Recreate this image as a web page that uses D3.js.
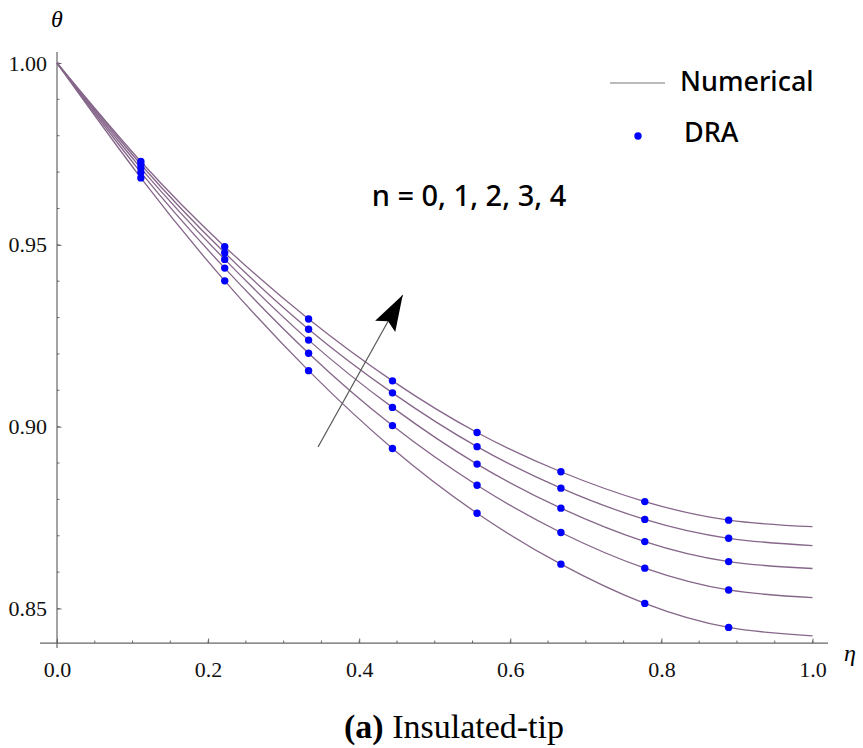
<!DOCTYPE html>
<html>
<head>
<meta charset="utf-8">
<script src="https://cdn.jsdelivr.net/npm/d3@7"></script>
<style>
body { margin: 0; background: #fff; }
svg { display: block; }
</style>
</head>
<body>
<div id="chart"></div>
<script>
// ----------------------------------------------------------
// DATA -----------------------------------------------------
// ----------------------------------------------------------
// eta nodes (numerical curves)
var eta = [0, 0.111, 0.222, 0.333, 0.444, 0.556, 0.667, 0.778, 0.889, 1.0];
// theta for n = 0..4 (n = 0 lowest)
var theta_n0 = [1.0, 0.9684, 0.9401, 0.9154, 0.8940, 0.8762, 0.8622, 0.8514, 0.8448, 0.8425];
var theta_n1 = [1.0, 0.9699, 0.9436, 0.9202, 0.9003, 0.8839, 0.8709, 0.8611, 0.8551, 0.8530];
var theta_n2 = [1.0, 0.9711, 0.9460, 0.9238, 0.9053, 0.8897, 0.8776, 0.8684, 0.8629, 0.8610];
var theta_n3 = [1.0, 0.9721, 0.9478, 0.9268, 0.9093, 0.8945, 0.8831, 0.8745, 0.8693, 0.8673];
var theta_n4 = [1.0, 0.9729, 0.9495, 0.9296, 0.9126, 0.8984, 0.8876, 0.8794, 0.8743, 0.8725];
var numerical = [theta_n0, theta_n1, theta_n2, theta_n3, theta_n4];
// DRA markers at the interior nodes
var eta_dra = [0.111, 0.222, 0.333, 0.444, 0.556, 0.667, 0.778, 0.889];
var dra = numerical.map(function(s) { return s.slice(1, 9); });
// ticks
var x_ticks = [0, 0.2, 0.4, 0.6, 0.8, 1.0];
var x_minor = d3.range(0, 1.0001, 0.05);
var y_ticks = [0.85, 0.90, 0.95, 1.00];
var y_minor = d3.range(0.85, 1.0001, 0.01);

// ----------------------------------------------------------
// STRUCTURE ------------------------------------------------
// ----------------------------------------------------------
var W = 863, H = 748;
var svg = d3.select("#chart").append("svg")
  .attr("width", W).attr("height", H)
  .style("background-color", "#fff");

var x = d3.scaleLinear().domain([0, 1]).range([57, 812.5]);
var y = d3.scaleLinear().domain([0.85, 1.0]).range([608.5, 63]);
var origin_theta = 0.8405;
var axisColor = "#666";
var serif = "'Liberation Serif', 'Times New Roman', serif";

// ----------------------------------------------------------
// AXES -----------------------------------------------------
// ----------------------------------------------------------
var gx = svg.append("g").attr("transform", "translate(0," + y(origin_theta) + ")");
gx.append("line").attr("x1", 40).attr("x2", 828).attr("stroke", axisColor).attr("stroke-width", 1.2);
gx.selectAll(".minor").data(x_minor).enter().append("line")
  .attr("x1", function(d) { return x(d); }).attr("x2", function(d) { return x(d); })
  .attr("y1", 0).attr("y2", -2.5).attr("stroke", axisColor);
gx.call(d3.axisBottom(x).tickValues(x_ticks).tickFormat(d3.format(".1f"))
    .tickSizeInner(-4.5).tickSizeOuter(0).tickPadding(18))
  .call(function(g) {
    g.select(".domain").remove();
    g.selectAll(".tick line").attr("stroke", axisColor);
    g.selectAll(".tick text").attr("fill", "#111").style("font-family", serif).style("font-size", "22px");
  });

var gy = svg.append("g").attr("transform", "translate(" + x(0) + ",0)");
gy.append("line").attr("y1", 52).attr("y2", 648).attr("stroke", axisColor).attr("stroke-width", 1.2);
gy.selectAll(".minor").data(y_minor).enter().append("line")
  .attr("y1", function(d) { return y(d); }).attr("y2", function(d) { return y(d); })
  .attr("x1", 0).attr("x2", 2.5).attr("stroke", axisColor);
gy.call(d3.axisLeft(y).tickValues(y_ticks).tickFormat(d3.format(".2f"))
    .tickSizeInner(-4.5).tickSizeOuter(0).tickPadding(10))
  .call(function(g) {
    g.select(".domain").remove();
    g.selectAll(".tick line").attr("stroke", axisColor);
    g.selectAll(".tick text").attr("fill", "#111").style("font-family", serif).style("font-size", "22px");
  });

// axis labels
svg.append("text").attr("x", 57).attr("y", 27).attr("text-anchor", "middle")
  .style("font-family", serif).style("font-style", "italic").style("font-size", "24px")
  .text("θ");
svg.append("text").attr("x", 850).attr("y", 661).attr("text-anchor", "middle")
  .style("font-family", serif).style("font-style", "italic").style("font-size", "24px")
  .text("η");

// ----------------------------------------------------------
// GFX ------------------------------------------------------
// ----------------------------------------------------------
var line = d3.line()
  .x(function(d, i) { return x(eta[i]); })
  .y(function(d) { return y(d); })
  .curve(d3.curveNatural);

svg.append("g").selectAll("path").data(numerical).enter().append("path")
  .attr("d", line)
  .attr("fill", "none")
  .attr("stroke", "#86668a")
  .attr("stroke-width", 1.3);

svg.append("g").selectAll("g").data(dra).enter().append("g")
  .selectAll("circle").data(function(d) { return d; }).enter().append("circle")
  .attr("cx", function(d, i) { return x(eta_dra[i]); })
  .attr("cy", function(d) { return y(d); })
  .attr("r", 3.7)
  .attr("fill", "#0000ff");

// ----------------------------------------------------------
// ANNOTATION -----------------------------------------------
// ----------------------------------------------------------
svg.append("defs").append("marker")
  .attr("id", "head").attr("markerUnits", "userSpaceOnUse")
  .attr("markerWidth", 40).attr("markerHeight", 28)
  .attr("viewBox", "0 -14 40 28").attr("refX", 36).attr("refY", 0)
  .attr("orient", "auto")
  .append("path").attr("d", "M0,-11.5 L36,0 L0,11.5 L6,0 Z").attr("fill", "#000");

svg.append("line")
  .attr("x1", x(0.3455)).attr("y1", y(0.8944))
  .attr("x2", x(0.4576)).attr("y2", y(0.9362))
  .attr("stroke", "#555").attr("stroke-width", 1.2)
  .attr("marker-end", "url(#head)");

svg.append("text").attr("x", x(0.4165)).attr("y", y(0.9607))
  .style("font-family", "'Noto Sans', sans-serif").style("font-size", "29px")
  .style("font-weight", 500)
  .attr("fill", "#000")
  .text("n = 0, 1, 2, 3, 4");

// legend
var legend = svg.append("g").style("font-family", "'Comic Sans MS', 'Noto Sans', sans-serif")
  .style("font-size", "27px").style("font-weight", 500);
legend.append("line").attr("x1", 610).attr("x2", 665).attr("y1", 83).attr("y2", 83)
  .attr("stroke", "#777").attr("stroke-width", 1);
legend.append("text").attr("x", 680).attr("y", 91).text("Numerical");
legend.append("circle").attr("cx", 638).attr("cy", 136).attr("r", 3.7).attr("fill", "#0000ff");
legend.append("text").attr("x", 684).attr("y", 142).text("DRA");

// caption
var cap = svg.append("text").attr("x", 454).attr("y", 738).attr("text-anchor", "middle")
  .style("font-family", serif).style("font-size", "34px").attr("fill", "#000");
cap.append("tspan").style("font-weight", "bold").text("(a)");
cap.append("tspan").text(" Insulated-tip");
</script>
</body>
</html>
